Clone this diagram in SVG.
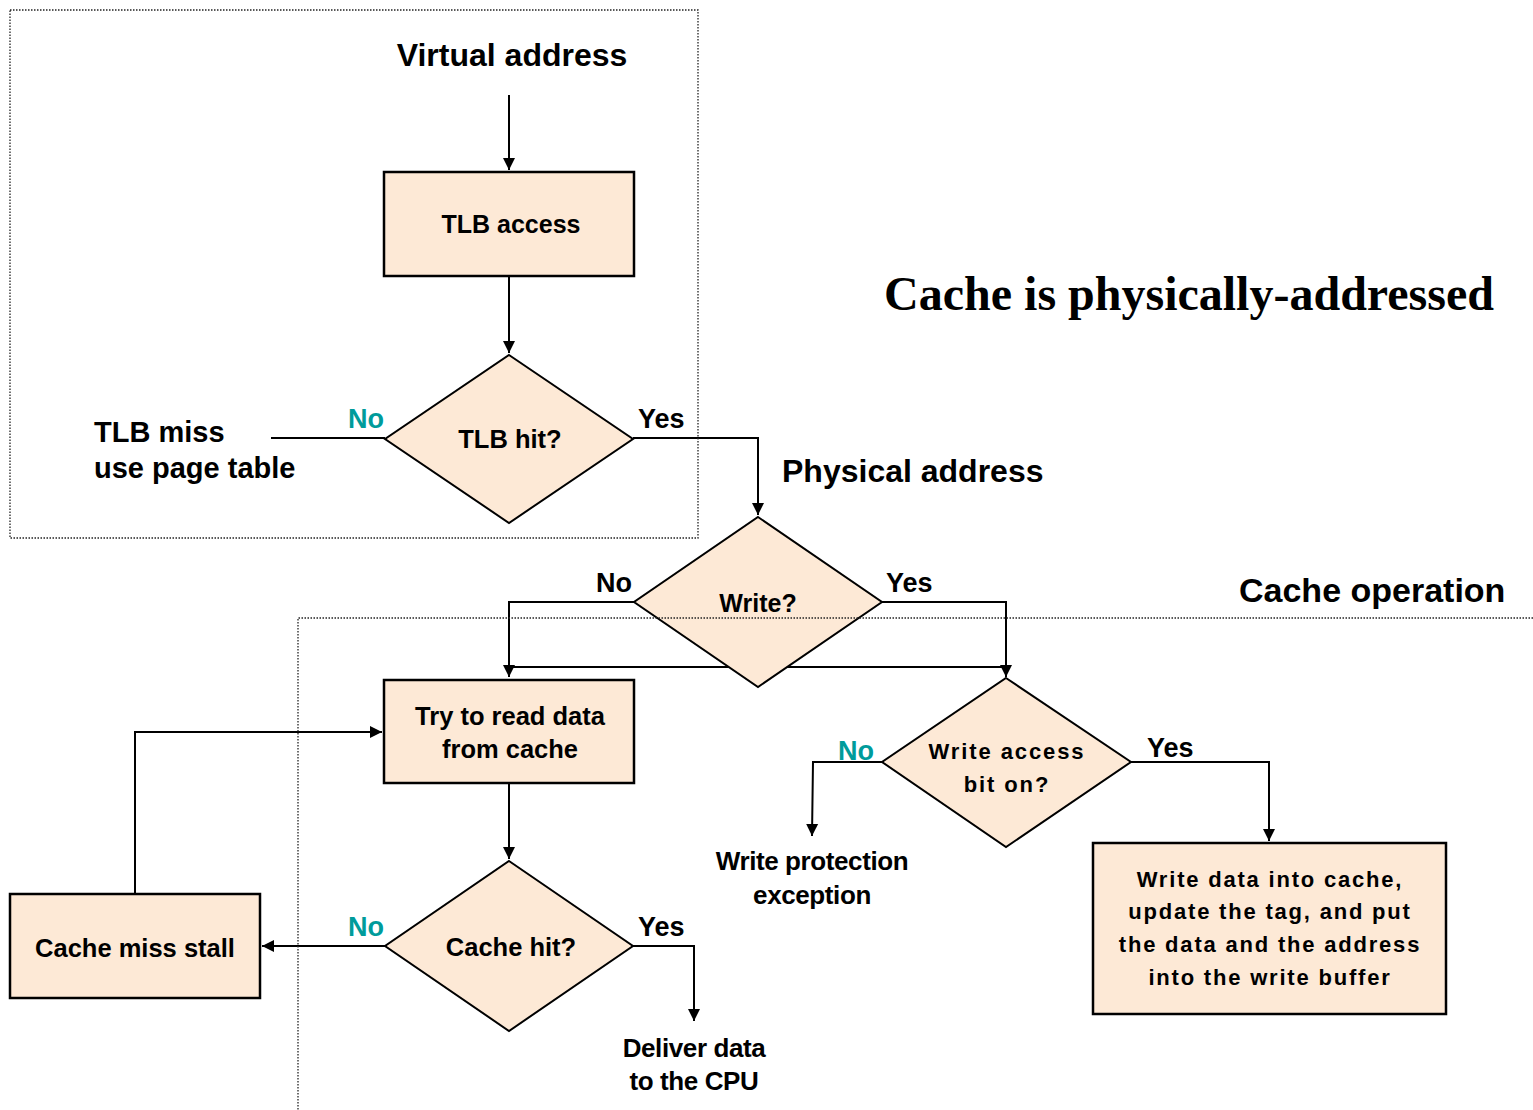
<svg xmlns="http://www.w3.org/2000/svg" width="1533" height="1110" viewBox="0 0 1533 1110">
<defs>
<marker id="ah" markerUnits="userSpaceOnUse" markerWidth="12" markerHeight="14" viewBox="0 0 12 14" refX="12" refY="7" orient="auto">
<path d="M0,1 L12,7 L0,13 Z" fill="#000"/>
</marker>
<style>
.box{fill:#FDE9D6;stroke:#000;stroke-width:2.5}
.dia{fill:#FDE9D6;stroke:#000;stroke-width:2}
.ln{fill:none;stroke:#000;stroke-width:2}
.arr{fill:none;stroke:#000;stroke-width:2;marker-end:url(#ah)}
.dot{fill:none;stroke:#222;stroke-width:1.3;stroke-dasharray:1.5 1.5}
.t{font-family:"Liberation Sans",Arial,sans-serif;font-weight:bold;fill:#000}
.c{text-anchor:middle}
.teal{fill:#009B9B}
</style>
</defs>
<rect width="1533" height="1110" fill="#fff"/>

<g id="connectors">
<line class="arr" x1="509" y1="95" x2="509" y2="170"/>
<line class="arr" x1="509" y1="277" x2="509" y2="353"/>
<line class="ln" x1="271" y1="438" x2="385" y2="438"/>
<polyline class="arr" points="633,438 758,438 758,515"/>
<polyline class="arr" points="634,602 509,602 509,677"/>
<polyline class="arr" points="882,602 1006,602 1006,677"/>
<line class="ln" x1="509" y1="667" x2="1006" y2="667"/>
<polyline class="arr" points="882,762 813,762 812,836"/>
<polyline class="arr" points="1131,762 1269,762 1269,841"/>
<line class="arr" x1="509" y1="784" x2="509" y2="859"/>
<line class="arr" x1="385" y1="946" x2="262" y2="946"/>
<polyline class="arr" points="633,946 694,946 694,1021"/>
<polyline class="arr" points="135,894 135,732 382,732"/>
</g>

<g id="tlb-access">
<rect class="box" x="384" y="172" width="250" height="104"/>
<text class="t c" x="511" y="233" font-size="25">TLB access</text>
</g>

<g id="tlb-hit">
<polygon class="dia" points="509,355 633,439 509,523 385,439"/>
<text class="t c" x="510" y="448" font-size="25.5">TLB hit?</text>
</g>

<g id="write">
<polygon class="dia" points="758,517 882,602 758,687 634,602"/>
<text class="t c" x="758" y="612" font-size="25">Write?</text>
</g>

<g id="write-access">
<polygon class="dia" points="1006,678 1131,762 1006,847 882,762"/>
<text class="t c" x="1007" y="759" font-size="22" letter-spacing="1.9">Write access</text>
<text class="t c" x="1007" y="792" font-size="22" letter-spacing="1.9">bit on?</text>
</g>

<g id="write-data">
<rect class="box" x="1093" y="843" width="353" height="171"/>
<text class="t c" x="1270" y="887" font-size="22" letter-spacing="1.8">Write data into cache,</text>
<text class="t c" x="1270" y="919" font-size="22" letter-spacing="1.8">update the tag, and put</text>
<text class="t c" x="1270" y="952" font-size="22" letter-spacing="1.8">the data and the address</text>
<text class="t c" x="1270" y="985" font-size="22" letter-spacing="1.8">into the write buffer</text>
</g>

<g id="try-read">
<rect class="box" x="384" y="680" width="250" height="103"/>
<text class="t c" x="510" y="725" font-size="25.5">Try to read data</text>
<text class="t c" x="510" y="758" font-size="25.5">from cache</text>
</g>

<g id="cache-hit">
<polygon class="dia" points="509,861 633,946 509,1031 385,946"/>
<text class="t c" x="511" y="956" font-size="25.5">Cache hit?</text>
</g>

<g id="cache-miss-stall">
<rect class="box" x="10" y="894" width="250" height="104"/>
<text class="t c" x="135" y="957" font-size="25.5">Cache miss stall</text>
</g>

<g id="labels">
<text class="t c" x="512" y="66" font-size="32">Virtual address</text>
<text class="t" x="94" y="442" font-size="29">TLB miss</text>
<text class="t" x="94" y="478" font-size="29">use page table</text>
<text class="t" x="782" y="482" font-size="32">Physical address</text>
<text x="1189" y="310" font-family="'Liberation Serif','Times New Roman',serif" font-weight="bold" font-size="48" text-anchor="middle">Cache is physically-addressed</text>
<text class="t" x="1239" y="602" font-size="34">Cache operation</text>
<text class="t c" x="812" y="870" font-size="26" letter-spacing="-0.4">Write protection</text>
<text class="t c" x="812" y="904" font-size="26" letter-spacing="-0.4">exception</text>
<text class="t c" x="694" y="1057" font-size="26" letter-spacing="-0.4">Deliver data</text>
<text class="t c" x="694" y="1090" font-size="26" letter-spacing="-0.4">to the CPU</text>
<text class="t teal" x="348" y="428" font-size="27">No</text>
<text class="t" x="638" y="428" font-size="27">Yes</text>
<text class="t" x="596" y="592" font-size="27">No</text>
<text class="t" x="886" y="592" font-size="27">Yes</text>
<text class="t teal" x="838" y="760" font-size="27">No</text>
<text class="t" x="1147" y="757" font-size="27">Yes</text>
<text class="t teal" x="348" y="936" font-size="27">No</text>
<text class="t" x="638" y="936" font-size="27">Yes</text>
</g>

<g id="regions">
<rect class="dot" x="10" y="10" width="688" height="528"/>
<polyline class="dot" points="1533,618 298,618 298,1110"/>
</g>
</svg>
